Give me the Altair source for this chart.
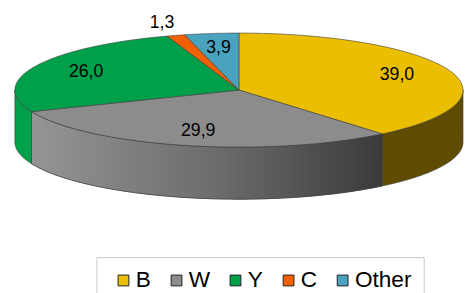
import altair as alt
import pandas as pd

# ---- chart values ----
categories = ["B", "W", "Y", "C", "Other"]
values = [39.0, 29.9, 26.0, 1.3, 3.9]
top_colors = ["#EBBE00", "#8C8C8C", "#00A04B", "#F06000", "#4AA3BE"]
side_colors = ["#5F4C00", "#8C8C8C", "#00A04B", "#A04000", "#2F7A90"]

# ---- geometry settings ----
N = 90                 # samples per arc
A, B, D = 228, 58, 53  # ellipse half-axes and depth (px)
W, H = 464, 285        # plot size
CX, CY = 235, 81       # pie centre inside plot (px from left / from top)

df = pd.DataFrame({
    "cat": categories,
    "value": values,
    "idx": list(range(len(categories))),
    "side": side_colors,
})
df["steps"] = [list(range(-1, N + 1)) for _ in categories]
df["sidesteps"] = [list(range(0, 2 * N + 2)) for _ in categories]

xs = alt.Scale(domain=[-CX, W - CX], nice=False, zero=False)
ys = alt.Scale(domain=[CY - H, CY], nice=False, zero=False)

base = (
    alt.Chart(df)
    .transform_joinaggregate(total="sum(value)")
    .transform_window(cum="sum(value)", sort=[alt.SortField("idx")], frame=[None, 0])
    .transform_calculate(a0="2*PI*(datum.cum - datum.value)/datum.total")
    .transform_calculate(a1="2*PI*datum.cum/datum.total")
)

# side walls (front half only)
side_base = (
    base.transform_calculate(s0="max(datum.a0, PI/2)")
    .transform_calculate(s1="min(datum.a1, 3*PI/2)")
    .transform_filter("datum.s1 > datum.s0")
    .transform_flatten(["sidesteps"], as_=["ss"])
    .transform_calculate(
        th=f"datum.s0 + (datum.s1 - datum.s0) * (datum.ss <= {N} ? datum.ss : {2 * N + 1} - datum.ss) / {N}"
    )
    .transform_calculate(px=f"{A} * sin(datum.th)")
    .transform_calculate(py=f"{B} * cos(datum.th) - (datum.ss > {N} ? {D} : 0)")
)

side = side_base.mark_line(
    filled=True, stroke="#3a3a3a", strokeWidth=0.6, interpolate="linear-closed"
).encode(
    x=alt.X("px:Q", scale=xs, axis=None),
    y=alt.Y("py:Q", scale=ys, axis=None),
    fill=alt.Fill("side:N", scale=None, legend=None),
    detail="cat:N",
    order=alt.Order("ss:Q"),
)

wgrad = side_base.transform_filter("datum.cat == 'W'").mark_line(
    filled=True,
    stroke="#3a3a3a",
    strokeWidth=0.6,
    interpolate="linear-closed",
    fill=alt.LinearGradient(
        gradient="linear",
        stops=[
            alt.GradientStop(color="#959595", offset=0),
            alt.GradientStop(color="#6a6a6a", offset=0.55),
            alt.GradientStop(color="#3a3a3a", offset=1),
        ],
        x1=0, x2=1, y1=0, y2=0,
    ),
).encode(
    x=alt.X("px:Q", scale=xs, axis=None),
    y=alt.Y("py:Q", scale=ys, axis=None),
    order=alt.Order("ss:Q"),
)

# top faces
top = (
    base.transform_flatten(["steps"], as_=["step"])
    .transform_calculate(th=f"datum.a0 + (datum.a1 - datum.a0) * max(datum.step, 0) / {N}")
    .transform_calculate(px=f"datum.step < 0 ? 0 : {A} * sin(datum.th)")
    .transform_calculate(py=f"datum.step < 0 ? 0 : {B} * cos(datum.th)")
    .mark_line(filled=True, stroke="#3a3a3a", strokeWidth=0.6, interpolate="linear-closed")
    .encode(
        x=alt.X("px:Q", scale=xs, axis=None),
        y=alt.Y("py:Q", scale=ys, axis=None),
        color=alt.Color(
            "cat:N",
            scale=alt.Scale(domain=categories, range=top_colors),
            sort=categories,
            legend=alt.Legend(
                orient="none",
                legendX=90,
                legendY=251,
                direction="horizontal",
                title=" ",
                titleOrient="left",
                titleFontSize=10,
                titlePadding=4,
                symbolType="square",
                symbolSize=121,
                symbolStrokeWidth=1,
                symbolStrokeColor="#222222",
                labelFont="Liberation Sans",
                labelFontSize=23,
                labelColor="black",
                labelOffset=1,
                columnPadding=14,
                strokeColor="#c8c8c8",
                padding=12,
            ),
        ),
        order=alt.Order("step:Q"),
    )
)

labels = (
    base.transform_calculate(mid="(datum.a0 + datum.a1) / 2")
    .transform_calculate(r="datum.value < 2 ? 1.22 : 0.75")
    .transform_calculate(lx=f"datum.r * {A} * sin(datum.mid)")
    .transform_calculate(ly=f"datum.r * {B} * cos(datum.mid)")
    .transform_calculate(txt="replace(format(datum.value, '.1f'), '.', ',')")
    .mark_text(font="Liberation Sans", fontSize=18, color="black")
    .encode(
        x=alt.X("lx:Q", scale=xs, axis=None),
        y=alt.Y("ly:Q", scale=ys, axis=None),
        text="txt:N",
    )
)

chart = (
    alt.layer(side, wgrad, top, labels)
    .properties(width=W, height=H, autosize="none", padding=0)
    .configure_view(stroke=None)
)

chart.save("out.html", embed_options={"renderer": "svg", "actions": False})
